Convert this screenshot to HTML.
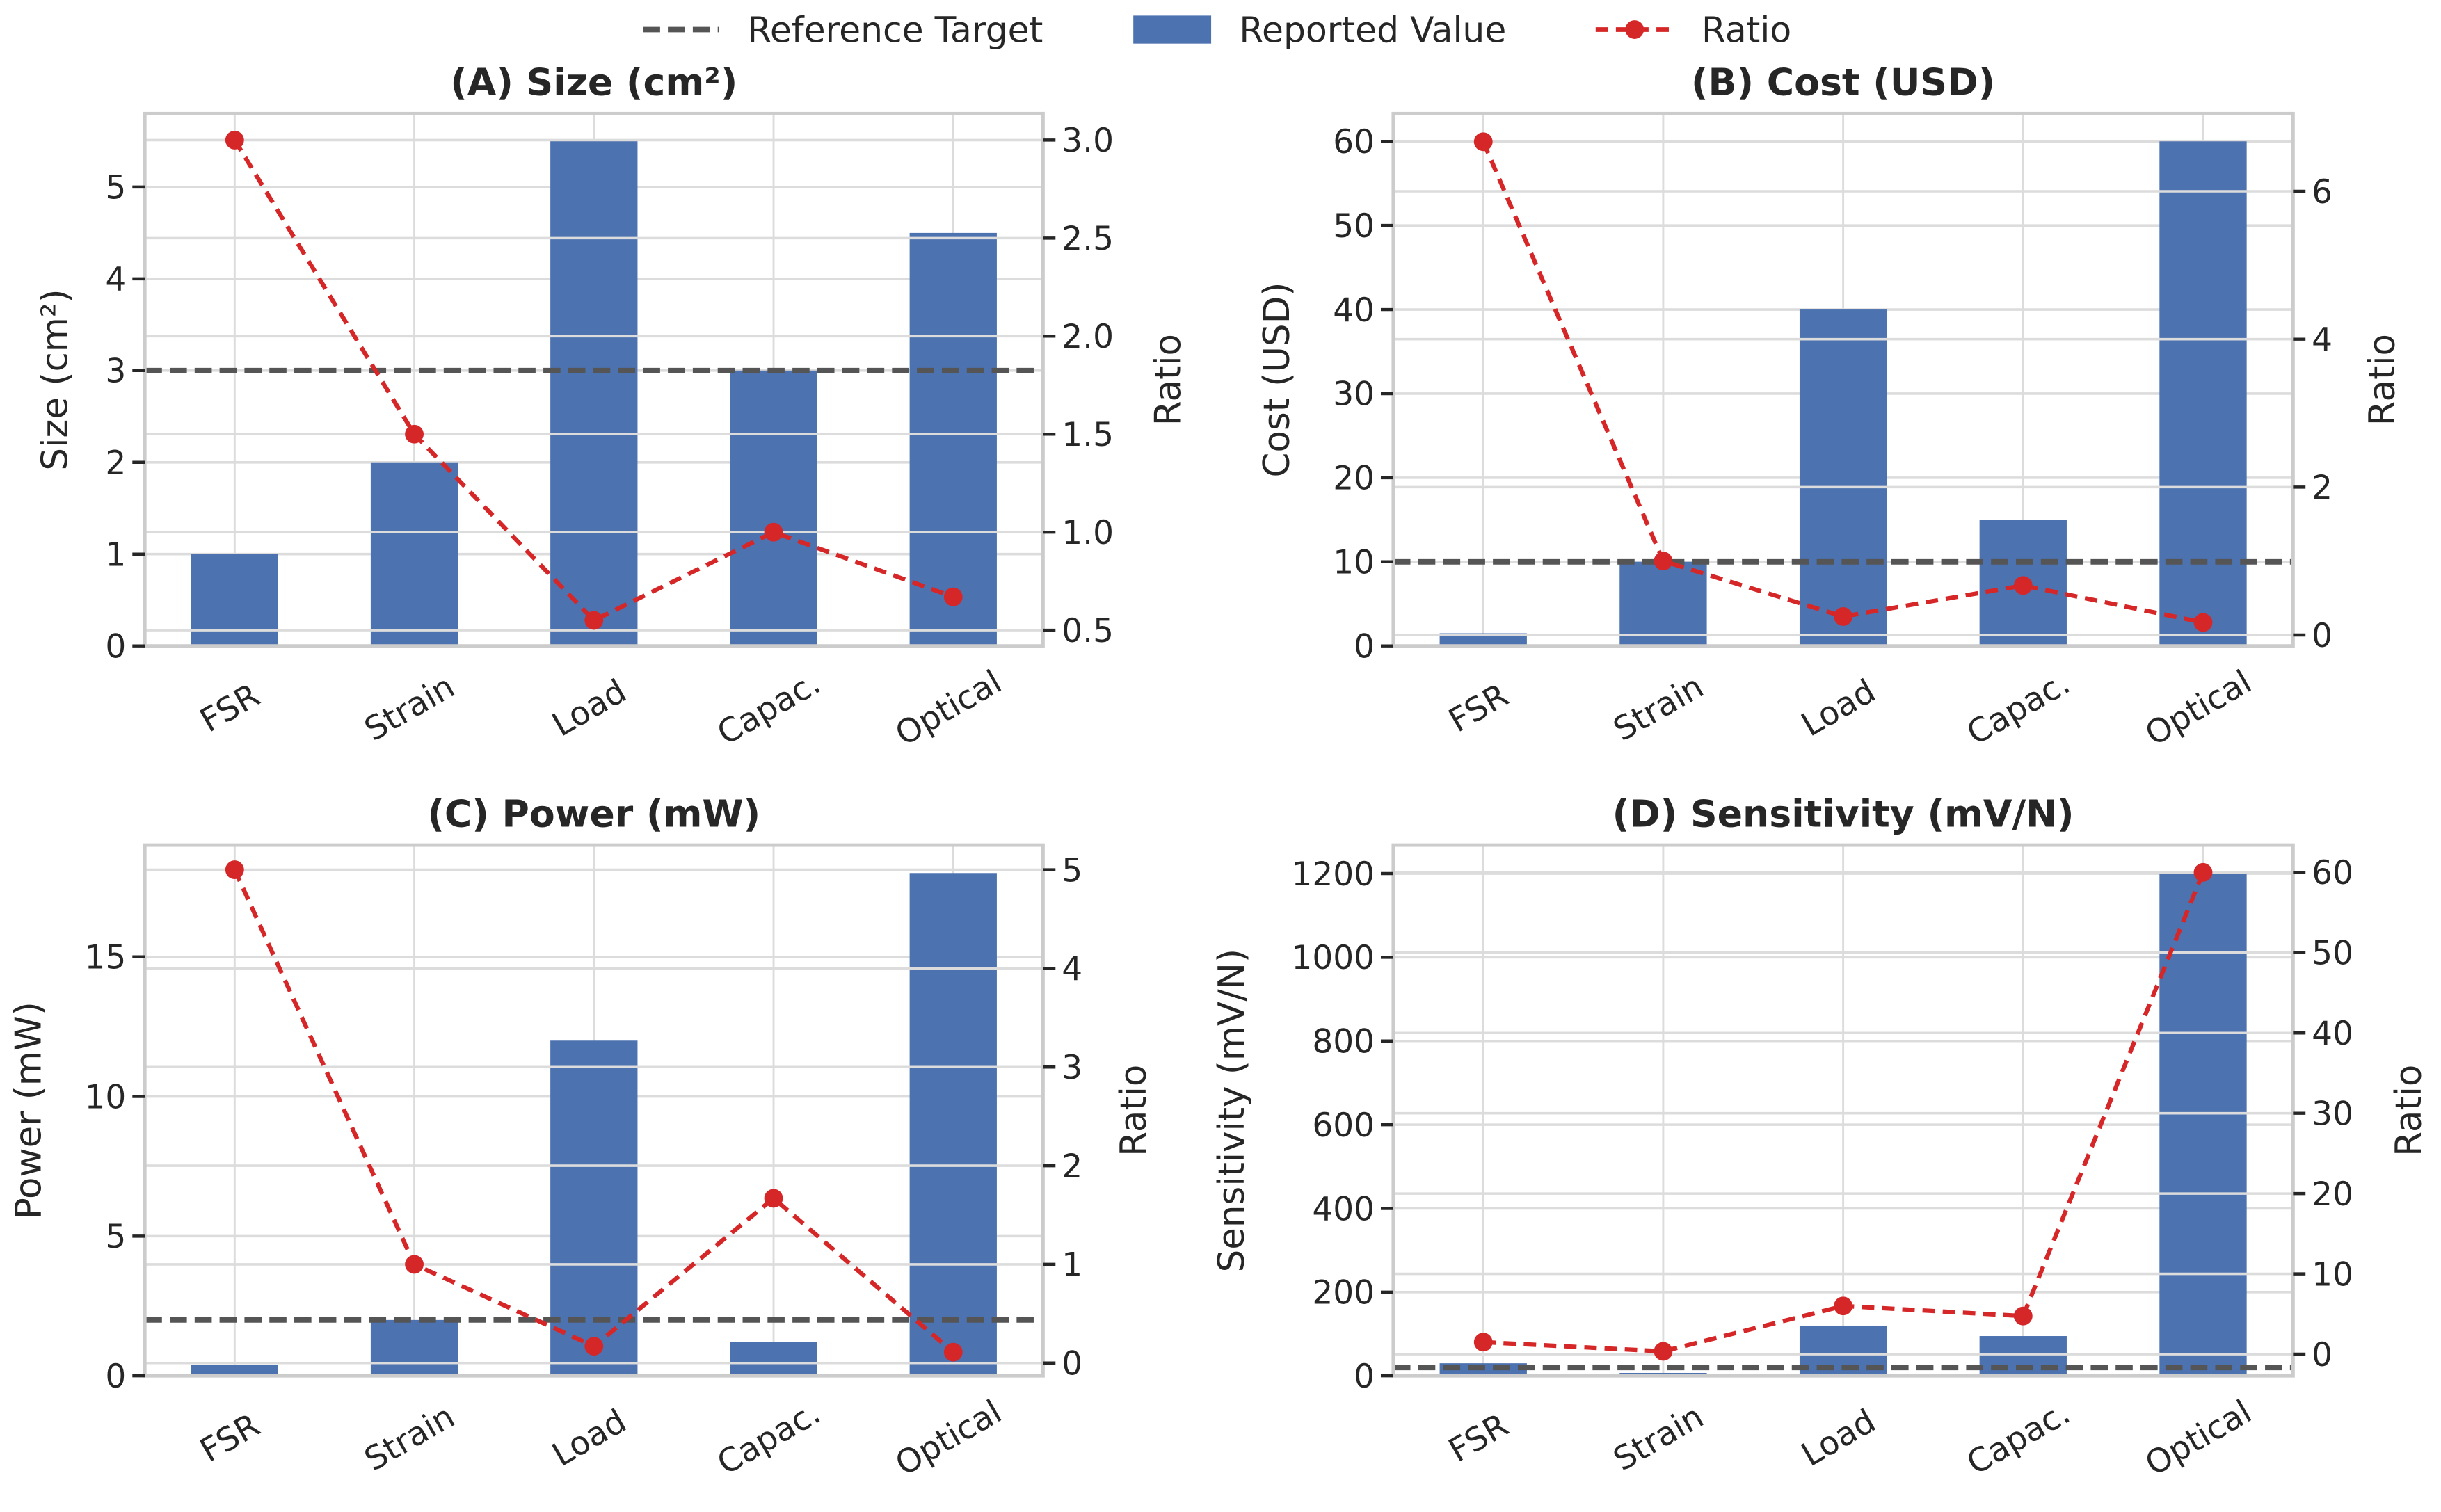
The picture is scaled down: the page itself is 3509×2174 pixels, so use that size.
<!DOCTYPE html>
<html><head><meta charset="utf-8"><style>
html,body{margin:0;padding:0;background:#fff}
svg{display:block}
text{font-family:"DejaVu Sans","Liberation Sans",sans-serif;fill:#262626}
</style></head><body>
<svg id="chart" width="3509" height="2174" viewBox="0 0 1568 971.5" xmlns="http://www.w3.org/2000/svg">
<g>
<line x1="413" y1="19" x2="462" y2="19" stroke="#555" stroke-width="3.5" stroke-dasharray="11 5"/>
<text x="480" y="27" font-size="22.5">Reference Target</text>
<rect x="728" y="10" width="50" height="18" fill="#4c72b0"/>
<text x="796" y="27" font-size="22.5">Reported Value</text>
<line x1="1025" y1="19" x2="1075" y2="19" stroke="#d62728" stroke-width="3" stroke-dasharray="8 5"/>
<circle cx="1050" cy="19" r="6" fill="#d62728"/>
<text x="1093" y="27" font-size="22.5">Ratio</text>
</g>
</svg>
<script>
const categories = ["FSR","Strain","Load","Capac.","Optical"];
const sizeValues = [1,2,5.5,3,4.5];
const sizeRatios = [3.0,1.5,0.55,1.0,0.67];
const sizeRef = 3;
const costValues = [1.5,10,40,15,60];
const costRatios = [6.67,1.0,0.25,0.67,0.17];
const costRef = 10;
const powerValues = [0.4,2,12,1.2,18];
const powerRatios = [5,1,0.17,1.67,0.11];
const powerRef = 2;
const sensValues = [30,7,120,95,1200];
const sensRatios = [1.5,0.35,6,4.75,60];
const sensRef = 20;
const sizeTicks = [0,1,2,3,4,5];
const sizeRTicks = [0.5,1.0,1.5,2.0,2.5,3.0];
const costTicks = [0,10,20,30,40,50,60];
const costRTicks = [0,2,4,6];
const powerTicks = [0,5,10,15];
const powerRTicks = [0,1,2,3,4,5];
const sensTicks = [0,200,400,600,800,1000,1200];
const sensRTicks = [0,10,20,30,40,50,60];

const NS="http://www.w3.org/2000/svg";
const svg=document.getElementById('chart');
function mk(tag,attrs,parent){const e=document.createElementNS(NS,tag);for(const k in attrs)e.setAttribute(k,attrs[k]);(parent||svg).appendChild(e);return e;}

function panel(cfg){
  const {key,title,ylabel,L,R,T,B,ymin,ymax,rmin,rmax,vals,ratios,ref,ticks,rticks,fmtR}=cfg;
  const g=mk('g',{});
  
  
  const n=categories.length, step=(R-L)/n;
  const xc=i=>L+step*(i+0.5);
  const y=v=>B-(v-ymin)/(ymax-ymin)*(B-T);
  const yr=v=>B-(v-rmin)/(rmax-rmin)*(B-T);
  categories.forEach((c,i)=>{const l=mk('line',{x1:xc(i),x2:xc(i),y1:T,y2:B,stroke:'#dcdcdc','stroke-width':1.3},g);
    
    });
  ticks.forEach(t=>{const l=mk('line',{x1:L,x2:R,y1:y(t),y2:y(t),stroke:'#dcdcdc','stroke-width':1.6},g);
    
    });
  vals.forEach((v,i)=>{const r=mk('rect',{x:xc(i)-28,width:56,y:y(Math.max(v,ymin)),height:y(ymin)-y(v),fill:'#4c72b0'},g);
    
    });
  rticks.forEach(t=>{const l=mk('line',{x1:L,x2:R,y1:yr(t),y2:yr(t),stroke:'#dcdcdc','stroke-width':1.6},g);
    
    });
  const rl=mk('line',{x1:L,x2:R,y1:y(ref),y2:y(ref),stroke:'#555','stroke-width':3.5,'stroke-dasharray':'11 5'},g);
  
  
  const pts=ratios.map((r,i)=>xc(i)+','+yr(r)).join(' ');
  const pl=mk('polyline',{points:pts,fill:'none',stroke:'#d62728','stroke-width':2.8,'stroke-dasharray':'8 5'},g);
  
  
  ratios.forEach((r,i)=>{const c=mk('circle',{cx:xc(i),cy:yr(r),r:6,fill:'#d62728'},g);
    
    });
  const fr=mk('rect',{x:L,y:T,width:R-L,height:B-T,fill:'none',stroke:'#cccccc','stroke-width':2.2},g);
  
  
  ticks.forEach(t=>{const tk=mk('line',{x1:L-8,x2:L,y1:y(t),y2:y(t),stroke:'#262626','stroke-width':2},g);
    
    
    const tx=mk('text',{x:L-12,y:y(t)+7.5,'text-anchor':'end','font-size':21},g);tx.textContent=String(t);
    
    });
  rticks.forEach(t=>{const tk=mk('line',{x1:R,x2:R+8,y1:yr(t),y2:yr(t),stroke:'#262626','stroke-width':2},g);
    
    
    const tx=mk('text',{x:R+12,y:yr(t)+7.5,'font-size':21},g);tx.textContent=fmtR(t);
    
    });
  categories.forEach((c,i)=>{const cx=xc(i)-3, cy=B+40;
    const tx=mk('text',{x:cx,y:cy+7,'text-anchor':'middle','font-size':21,transform:`rotate(-30 ${cx} ${cy})`},g);tx.textContent=c;
    
    });
  const tt=mk('text',{x:(L+R)/2,y:T-12,'text-anchor':'middle','font-size':24,'font-weight':'bold'},g);tt.textContent=title;
  
  
  const yl=mk('text',{x:0,y:0,'text-anchor':'middle','font-size':23,transform:`translate(${cfg.ylx},${(T+B)/2}) rotate(-90)`},g);yl.textContent=ylabel;
  
  
  const rl2=mk('text',{x:0,y:0,'text-anchor':'middle','font-size':23,transform:`translate(${cfg.rlx},${(T+B)/2}) rotate(-90)`},g);rl2.textContent='Ratio';
  
  
}
const f1=t=>t.toFixed(1), f0=t=>String(t);
panel({key:'size',title:'(A) Size (cm²)',ylabel:'Size (cm²)',L:93,R:670,T:73,B:415,ymin:0,ymax:5.8,rmin:0.42,rmax:3.135,vals:sizeValues,ratios:sizeRatios,ref:sizeRef,ticks:sizeTicks,rticks:sizeRTicks,fmtR:f1,ylx:43,rlx:758});
panel({key:'cost',title:'(B) Cost (USD)',ylabel:'Cost (USD)',L:895,R:1473,T:73,B:415,ymin:0,ymax:63.3,rmin:-0.147,rmax:7.05,vals:costValues,ratios:costRatios,ref:costRef,ticks:costTicks,rticks:costRTicks,fmtR:f0,ylx:828,rlx:1538});
panel({key:'power',title:'(C) Power (mW)',ylabel:'Power (mW)',L:93,R:670,T:543,B:884,ymin:0,ymax:19.0,rmin:-0.13,rmax:5.25,vals:powerValues,ratios:powerRatios,ref:powerRef,ticks:powerTicks,rticks:powerRTicks,fmtR:f0,ylx:26,rlx:736});
panel({key:'sensitivity',title:'(D) Sensitivity (mV/N)',ylabel:'Sensitivity (mV/N)',L:895,R:1473,T:543,B:884,ymin:0,ymax:1268,rmin:-2.7,rmax:63.4,vals:sensValues,ratios:sensRatios,ref:sensRef,ticks:sensTicks,rticks:sensRTicks,fmtR:f0,ylx:799,rlx:1555});
</script>
</body></html>
